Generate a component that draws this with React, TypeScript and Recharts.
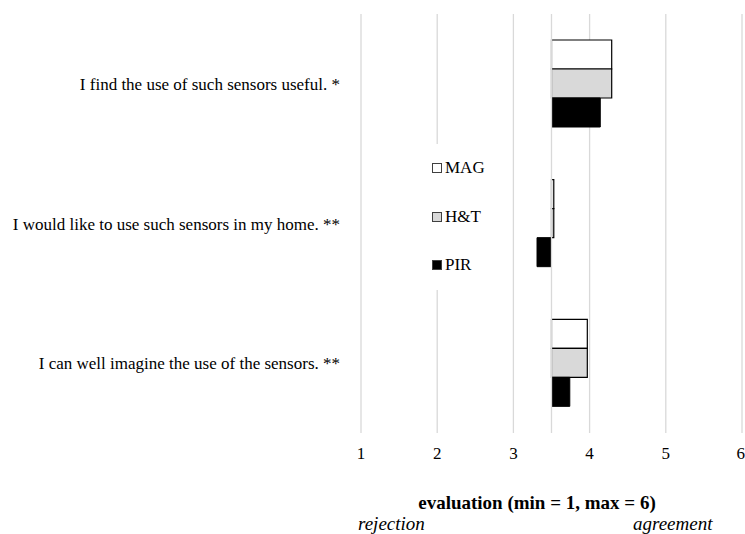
import React from "react";
import { BarChart, Bar, XAxis, YAxis, CartesianGrid, ReferenceLine, Legend } from "recharts";

const categories = [
  "I find the use of such sensors useful. *",
  "I would like to use such sensors in my home. **",
  "I can well imagine the use of the sensors. **",
];
const baseline = 3.5;
const magValues = [4.29, 3.53, 3.97];
const htValues = [4.29, 3.53, 3.97];
const pirValues = [4.14, 3.31, 3.74];
const xTicks = [1, 2, 3, 4, 5, 6];
const seriesOrder = ["MAG", "H&T", "PIR"];

const data = categories.map((name, i) => ({
  name,
  MAG: [baseline, magValues[i]],
  HT: [baseline, htValues[i]],
  PIR: [pirValues[i] < baseline ? pirValues[i] : baseline, pirValues[i] < baseline ? baseline : pirValues[i]],
}));

const FONT = "'Liberation Serif', 'Times New Roman', serif";

const LegendContent = (props: any) => {
  const payload = [...(props.payload || [])].sort(
    (a: any, b: any) => seriesOrder.indexOf(a.value) - seriesOrder.indexOf(b.value)
  );
  return (
    <div style={{ background: "#fff", width: 62, fontFamily: FONT, fontSize: 17, color: "#000", textAlign: "left" }}>
      {payload.map((p: any) => (
        <div key={p.value} style={{ height: 48.5, display: "flex", alignItems: "center" }}>
          <span
            style={{
              display: "inline-block",
              width: 8,
              height: 8,
              background: p.payload?.fill ?? p.color,
              border: "1px solid #404040",
              marginRight: 3,
              marginLeft: 4,
            }}
          />
          <span>{p.value}</span>
        </div>
      ))}
    </div>
  );
};

export default function App() {
  return (
    <div style={{ position: "absolute", left: 0, top: 0, width: 745, height: 534, background: "#fff" }}>
      <BarChart
        width={745}
        height={534}
        data={data}
        layout="vertical"
        margin={{ top: 14, right: 3, bottom: 71, left: 0 }}
        barGap={0}
        barSize={29}
      >
        <CartesianGrid horizontal={false} vertical={true} stroke="#d9d9d9" strokeWidth={1.3} />
        <XAxis
          type="number"
          domain={[1, 6]}
          ticks={xTicks}
          axisLine={false}
          tickLine={false}
          height={30}
          tickMargin={8}
          tick={{ fill: "#000", fontFamily: FONT, fontSize: 17 }}
          allowDataOverflow
        />
        <YAxis
          type="category"
          dataKey="name"
          width={361}
          axisLine={false}
          tickLine={false}
          tickMargin={15}
          tick={{ fill: "#000", fontFamily: FONT, fontSize: 17 }}
          interval={0}
        />
        <ReferenceLine x={baseline} stroke="#d9d9d9" strokeWidth={1.3} />
        <Legend
          layout="vertical"
          verticalAlign="middle"
          align="center"
          wrapperStyle={{ left: 428, top: 144, width: 62 }}
          content={<LegendContent />}
        />
        <Bar dataKey="MAG" name="MAG" fill="#ffffff" stroke="#000" strokeWidth={1.2} isAnimationActive={false} />
        <Bar dataKey="HT" name="H&T" fill="#d9d9d9" stroke="#000" strokeWidth={1.2} isAnimationActive={false} />
        <Bar dataKey="PIR" name="PIR" fill="#000000" stroke="#000" strokeWidth={1} isAnimationActive={false} />
      </BarChart>
      <div
        style={{
          position: "absolute",
          left: 337,
          width: 400,
          top: 492,
          textAlign: "center",
          fontFamily: FONT,
          fontSize: 19,
          fontWeight: "bold",
          color: "#000",
        }}
      >
        evaluation (min = 1, max = 6)
      </div>
      <div style={{ position: "absolute", left: 358, top: 513, fontFamily: FONT, fontSize: 19, fontStyle: "italic", color: "#000" }}>
        rejection
      </div>
      <div style={{ position: "absolute", left: 633, top: 513, fontFamily: FONT, fontSize: 19, fontStyle: "italic", color: "#000" }}>
        agreement
      </div>
    </div>
  );
}
